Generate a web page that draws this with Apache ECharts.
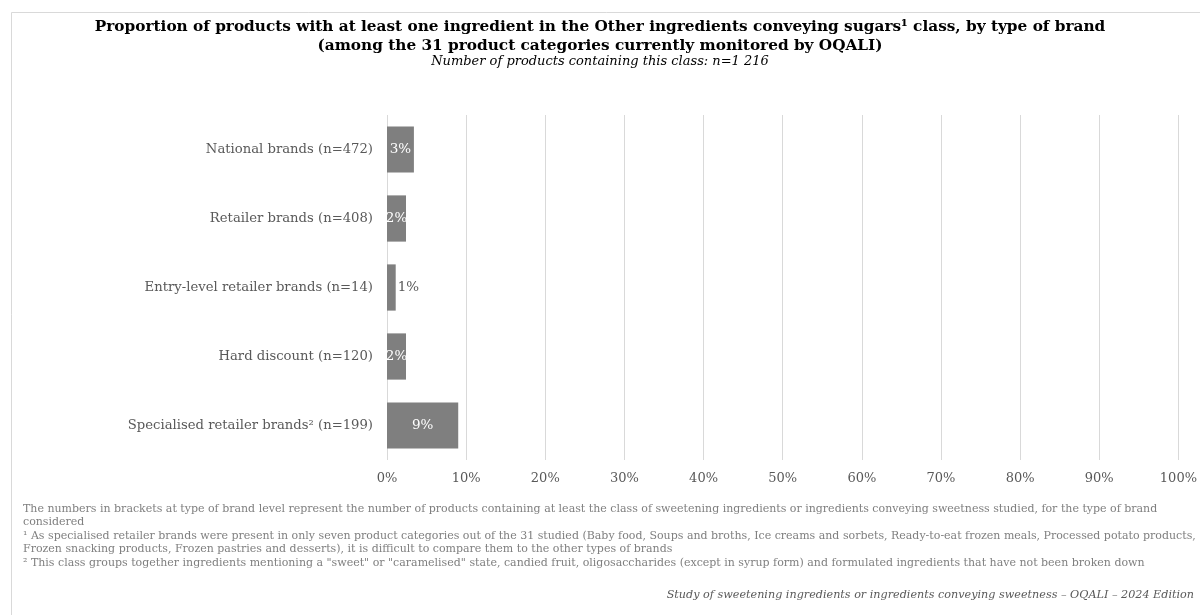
<!DOCTYPE html>
<html>
<head>
<meta charset="utf-8">
<script src="https://cdn.jsdelivr.net/npm/echarts@6/dist/echarts.min.js"></script>
<style>
html,body{margin:0;padding:0;background:#fff;}
#chart{width:1200px;height:615px;}
</style>
</head>
<body>
<div id="chart"></div>
<script>
const categories = [
  'National brands (n=472)',
  'Retailer brands (n=408)',
  'Entry-level retailer brands (n=14)',
  'Hard discount (n=120)',
  'Specialised retailer brands\u00B2 (n=199)'
];
const values = [3.4, 2.4, 1.1, 2.4, 9.0];
const xTicks = [0, 10, 20, 30, 40, 50, 60, 70, 80, 90, 100];

const titleLines = 'Proportion of products with at least one ingredient in the Other ingredients conveying sugars\u00B9 class, by type of brand\n(among the 31 product categories currently monitored by OQALI)';
const subtitleText = 'Number of products containing this class: n=1 216';
const footnotes = [
  'The numbers in brackets at type of brand level represent the number of products containing at least the class of sweetening ingredients or ingredients conveying sweetness studied, for the type of brand',
  'considered',
  '\u00B9 As specialised retailer brands were present in only seven product categories out of the 31 studied (Baby food, Soups and broths, Ice creams and sorbets, Ready-to-eat frozen meals, Processed potato products,',
  'Frozen snacking products, Frozen pastries and desserts), it is difficult to compare them to the other types of brands',
  '\u00B2 This class groups together ingredients mentioning a "sweet" or "caramelised" state, candied fruit, oligosaccharides (except in syrup form) and formulated ingredients that have not been broken down'
];
const sourceText = 'Study of sweetening ingredients or ingredients conveying sweetness \u2013 OQALI \u2013 2024 Edition';

const SERIF = '"DejaVu Serif", serif';
const chart = echarts.init(document.getElementById('chart'));

const seriesData = values.map(v => ({
  value: v,
  label: v < 1.5
    ? { position: 'right', color: '#595959', distance: 2 }
    : { position: 'inside', color: '#ffffff' }
}));

chart.setOption({
  backgroundColor: '#ffffff',
  animation: false,
  title: [
    {
      text: titleLines,
      left: 'center', top: 18, padding: 0,
      textStyle: { fontFamily: SERIF, fontWeight: 'bold', fontSize: 15.3, color: '#000', lineHeight: 19 }
    },
    {
      text: subtitleText,
      left: 'center', top: 54, padding: 0,
      textStyle: { fontFamily: SERIF, fontStyle: 'italic', fontWeight: 'normal', fontSize: 13, color: '#000', lineHeight: 16 }
    }
  ],
  graphic: [
    {
      type: 'rect', silent: true,
      shape: { x: 11.5, y: 12.5, width: 1200, height: 620 },
      style: { fill: 'none', stroke: '#d9d9d9', lineWidth: 1 }
    },
    {
      type: 'text', left: 23, top: 502,
      style: {
        text: footnotes.join('\n'),
        font: '11px ' + SERIF, fill: '#7f7f7f', lineHeight: 13.5
      }
    },
    {
      type: 'text', right: 6, top: 590,
      style: {
        text: sourceText,
        font: 'italic 11.2px ' + SERIF, fill: '#595959'
      }
    }
  ],
  grid: { left: 387, right: 21, top: 115, bottom: 155, containLabel: false },
  xAxis: {
    type: 'value', min: 0, max: 100, interval: 10,
    axisLine: { show: false }, axisTick: { show: false },
    splitLine: { show: true, lineStyle: { color: '#d9d9d9', width: 1 } },
    axisLabel: {
      formatter: v => xTicks.includes(v) ? v + '%' : '',
      color: '#595959', fontFamily: SERIF, fontSize: 13, margin: 12
    }
  },
  yAxis: {
    type: 'category', data: categories, inverse: true,
    axisLine: { show: false }, axisTick: { show: false },
    axisLabel: { color: '#595959', fontFamily: SERIF, fontSize: 13.2, margin: 14 }
  },
  series: [{
    type: 'bar',
    data: seriesData,
    barCategoryGap: '33%',
    itemStyle: { color: '#7f7f7f' },
    label: {
      show: true, fontFamily: SERIF, fontSize: 13.5,
      formatter: p => Math.round(p.value) + '%'
    }
  }]
});
</script>
</body>
</html>
